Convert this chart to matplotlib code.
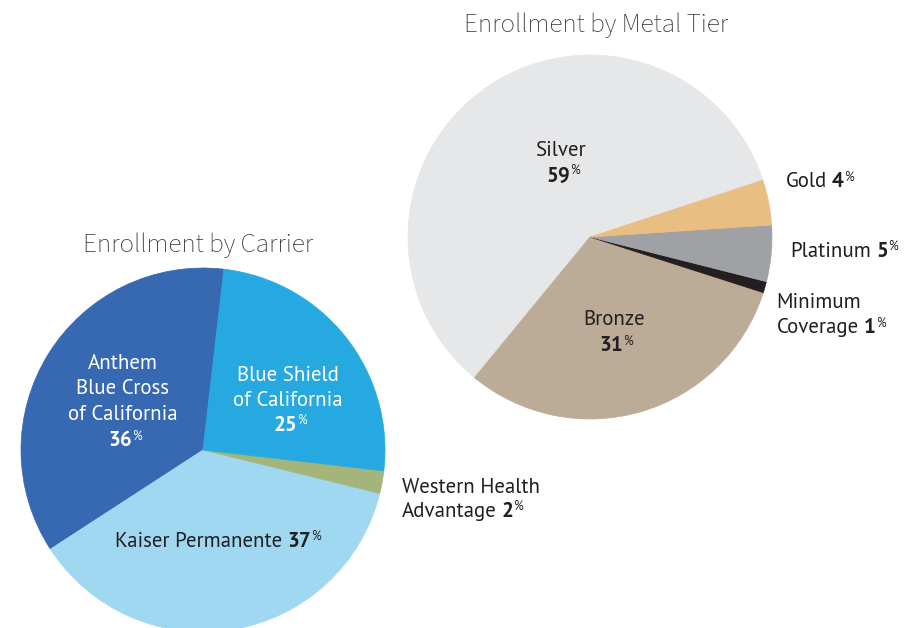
import matplotlib
matplotlib.use("Agg")
import matplotlib.pyplot as plt

# figure is laid out in pixel units (919 x 628), y measured from the top
W, H = 919, 628

# --- data: enrollment by carrier (counter-clockwise order in the pie)
carrier_names = ["Anthem Blue Cross of California", "Kaiser Permanente",
                 "Western Health Advantage", "Blue Shield of California"]
carrier_share = [36, 37, 2, 25]
carrier_colors = ["#3669b1", "#a0d8f2", "#a3b57b", "#26a9e0"]

# --- data: enrollment by metal tier (counter-clockwise order in the pie)
tier_names = ["Silver", "Bronze", "Minimum Coverage", "Platinum", "Gold"]
tier_share = [59, 31, 1, 5, 4]
tier_colors = ["#e6e7e8", "#bcab97", "#231f20", "#a0a1a5", "#e8be83"]

BODY = ["PT Sans", "Open Sans", "DejaVu Sans"]
TITLE = ["Source Sans 3", "Open Sans", "DejaVu Sans"]
DARK = "#231f20"
SIZE = 15

fig = plt.figure(figsize=(W / 100, H / 100), dpi=100)
ax = fig.add_axes([0, 0, 1, 1])
renderer = fig.canvas.get_renderer()


def draw_pie(values, colors, center, start):
    wedges, _ = ax.pie(values, colors=colors, startangle=start, radius=182,
                       center=(center[0], H - center[1]), frame=True)
    for w in wedges:
        w.set_edgecolor(w.get_facecolor())
        w.set_linewidth(0.5)


draw_pie(carrier_share, carrier_colors, (203, 450), 83.4)
draw_pie(tier_share, tier_colors, (590, 237), 18.2)

ax.set_xlim(0, W)
ax.set_ylim(0, H)
ax.set_aspect("equal")
ax.axis("off")


# one line of text made of plain words, a bold number and a small raised "%"
def text_line(x, y, words, share=None, ha="center", color=DARK):
    px = SIZE * 100 / 72
    items = []
    if words:
        items.append((ax.text(0, 0, words, fontsize=SIZE, family=BODY, color=color,
                              va="baseline"), 0, 0.24 * px if share is not None else 0))
    if share is not None:
        items.append((ax.text(0, 0, str(share), fontsize=SIZE, family=BODY, color=color,
                              va="baseline", weight="bold"), 0, 0.0))
        items.append((ax.text(0, 0, "%", fontsize=SIZE * 0.6, family=BODY, color=color,
                              va="baseline"), 0.31 * px, 0))
    widths = [t.get_window_extent(renderer).width for t, _, _ in items]
    total = sum(widths) + sum(g for _, _, g in items)
    x0 = x - total / 2 if ha == "center" else x
    for (t, lift, gap), w in zip(items, widths):
        t.set_position((x0, H - y + lift))
        x0 += w + gap


# titles
ax.text(596, H - 31.7, "Enrollment by Metal Tier", ha="center", va="baseline",
        family=TITLE, fontsize=19.5, color="#333333")
ax.text(198, H - 252, "Enrollment by Carrier", ha="center", va="baseline",
        family=TITLE, fontsize=19.5, color="#333333")

# carrier labels
text_line(123, 369.3, "Anthem", color="white")
text_line(123, 394.5, "Blue Cross", color="white")
text_line(123, 420, "of California", color="white")
text_line(125, 446, "", carrier_share[0], color="white")

text_line(288, 380.7, "Blue Shield", color="white")
text_line(288, 405.7, "of California", color="white")
text_line(290, 430.7, "", carrier_share[3], color="white")

text_line(115, 546.7, carrier_names[1], carrier_share[1], ha="left")

text_line(401.7, 492.7, "Western Health", ha="left")
text_line(401.7, 516.7, "Advantage", carrier_share[2], ha="left")

# metal tier labels
text_line(561, 156, tier_names[0])
text_line(563.5, 180.7, "", tier_share[0])

text_line(614, 325, tier_names[1])
text_line(616, 351, "", tier_share[1])

text_line(785.7, 187.3, tier_names[4], tier_share[4], ha="left")
text_line(790.7, 256.7, tier_names[3], tier_share[3], ha="left")
text_line(776.7, 308.3, "Minimum", ha="left")
text_line(776.7, 333.3, "Coverage", tier_share[2], ha="left")

fig.savefig("out.png", dpi=100, facecolor="white")
